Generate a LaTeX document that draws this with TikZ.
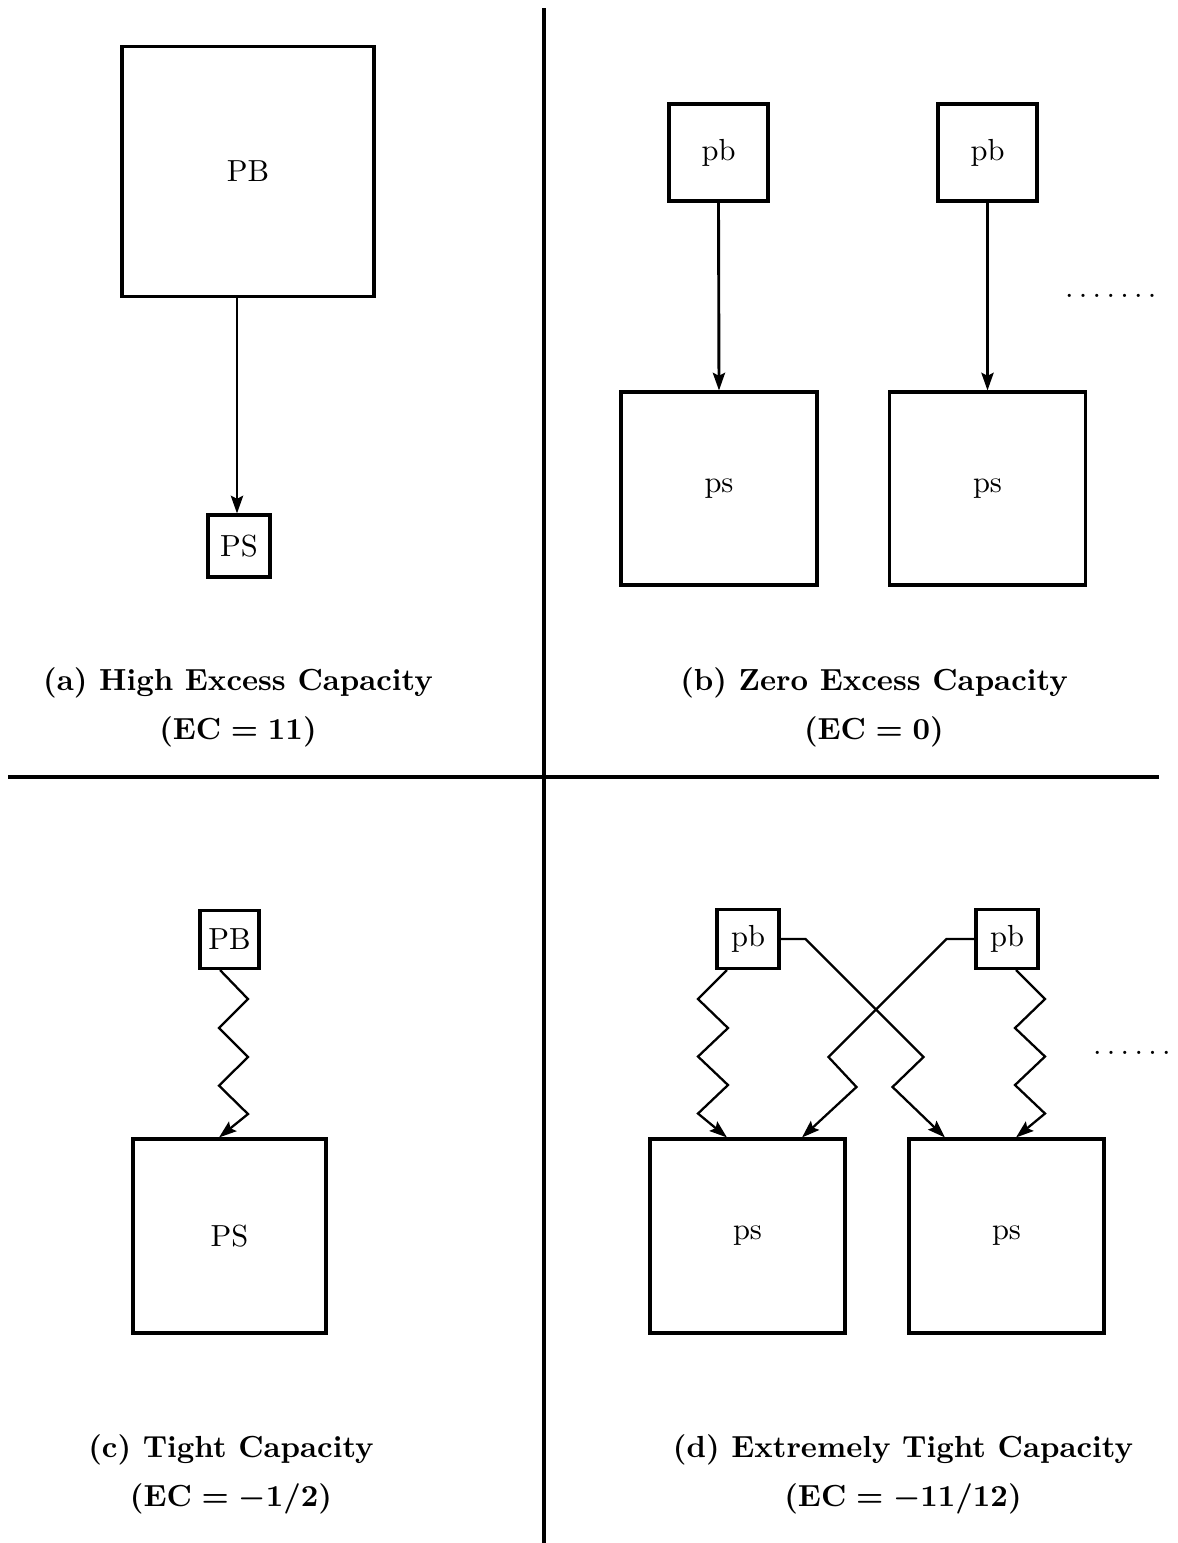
\documentclass[tikz,border=0pt]{standalone}
\usetikzlibrary{arrows.meta}
\newcommand\pxu{0.328pt}
\newcommand\dotrow{.\kern1.75pt.\kern1.75pt.\kern1.75pt.\kern1.75pt.\kern1.75pt.\kern1.75pt.}
\newcommand\dotrowsix{.\kern1.75pt.\kern1.75pt.\kern1.75pt.\kern1.75pt.\kern1.75pt.}
\tikzset{
  box/.style={draw, line width=1pt, inner sep=0pt, font=\fontsize{10}{12}\selectfont},
  arr/.style={line width=0.95pt, -{Stealth[length=5.8pt,width=4pt,inset=1pt]}},
  zz/.style={line width=0.75pt, line join=miter, -{Stealth[length=5.8pt,width=4pt,inset=1pt]}},
  divider/.style={line width=1.05pt},
  captext/.style={font=\bfseries\boldmath, anchor=base, inner sep=0pt},
  dotsnode/.style={font=\fontsize{10}{12}\selectfont, anchor=base west, inner sep=0pt},
}
\begin{document}
\begin{tikzpicture}[x=\pxu, y=-\pxu]
\useasboundingbox (0,0) rectangle (1178,1543);

% dividers
\coordinate (vt) at (544,8);
\coordinate (vb) at (544,1543);
\coordinate (hl) at (8,777);
\coordinate (hr) at (1159,777);
\draw[divider] (vt) -- (vb);
\draw[divider] (hl) -- (hr);

% ---------- (a) ----------
\node[box, minimum width=252*\pxu, minimum height=250*\pxu] (PBa) at (248,171.5) {PB};
\node[box, minimum width=62*\pxu, minimum height=62*\pxu] (PSa) at (239,546) {PS};
\coordinate (xa) at (237,0);
\draw[arr] (PBa.south -| xa) -- (PSa.north -| xa);
\node[captext] (capA1) at (238,690) {(a) High Excess Capacity};
\node[captext] (capA2) at (238,739) {$\mathbf{(EC = 11)}$};

% ---------- (b) ----------
\node[box, minimum width=99*\pxu, minimum height=97*\pxu] (pbB1) at (718.5,152.5) {pb};
\node[box, minimum width=99*\pxu, minimum height=97*\pxu] (pbB2) at (987.5,152.5) {pb};
\node[box, minimum width=196*\pxu, minimum height=193*\pxu] (psB1) at (719,488.5) {ps};
\node[box, minimum width=196*\pxu, minimum height=193*\pxu] (psB2) at (987.5,488.5) {ps};
\draw[arr] (pbB1.south) -- (psB1.north);
\draw[arr] (pbB2.south) -- (psB2.north);
\node[dotsnode] (dotsB) at (1064.5,297) {\dotrow};
\node[captext] (capB1) at (874,690) {(b) Zero Excess Capacity};
\node[captext] (capB2) at (874,739) {$\mathbf{(EC = 0)}$};

% ---------- (c) ----------
\node[box, minimum width=59*\pxu, minimum height=58*\pxu] (PBc) at (229.5,939.5) {PB};
\node[box, minimum width=193*\pxu, minimum height=194*\pxu] (PSc) at (229.5,1236) {PS};
\coordinate (c1) at (220,0);
\coordinate (c2) at (219,0);
\draw[zz] (PBc.south -| c1) -- ++(28,29) -- ++(-29,29) -- ++(29,29) -- ++(-29,28.6) -- ++(29,28.4) -- (PSc.north -| c2);
\node[captext] (capC1) at (231,1457) {(c) Tight Capacity};
\node[captext] (capC2) at (231,1506) {$\mathbf{(EC = -1/2)}$};

% ---------- (d) ----------
\node[box, minimum width=62*\pxu, minimum height=59*\pxu] (pbL) at (748,939) {pb};
\node[box, minimum width=62*\pxu, minimum height=59*\pxu] (pbR) at (1007,939) {pb};
\node[box, minimum width=195*\pxu, minimum height=194*\pxu] (psL) at (747.5,1236) {ps};
\node[box, minimum width=195*\pxu, minimum height=194*\pxu] (psR) at (1006.5,1236) {ps};
\coordinate (dL) at (727,0);
\coordinate (dR) at (1016,0);
\coordinate (xLR) at (945,0);
\coordinate (xRL) at (802,0);
\draw[zz] (pbL.south -| dL) -- ++(-29,29) -- ++(30,29) -- ++(-30,28.5) -- ++(30,28.5) -- ++(-30,28.5) -- (psL.north -| dL);
\draw[zz] (pbR.south -| dR) -- ++(29,29) -- ++(-30,29) -- ++(30,28.5) -- ++(-30,28.5) -- ++(30,28.5) -- (psR.north -| dR);
\draw[zz] (pbL.east) -- ++(25,0) -- ++(118,118) -- ++(-31,30) -- (psR.north -| xLR);
\draw[zz] (pbR.west) -- ++(-28,0) -- ++(-118,118) -- ++(28,30) -- (psL.north -| xRL);
\node[dotsnode] (dotsD) at (1092.5,1054) {\dotrowsix};
\node[captext] (capD1) at (903,1457) {(d) Extremely Tight Capacity};
\node[captext] (capD2) at (903,1506) {$\mathbf{(EC = -11/12)}$};
\end{tikzpicture}
\end{document}
